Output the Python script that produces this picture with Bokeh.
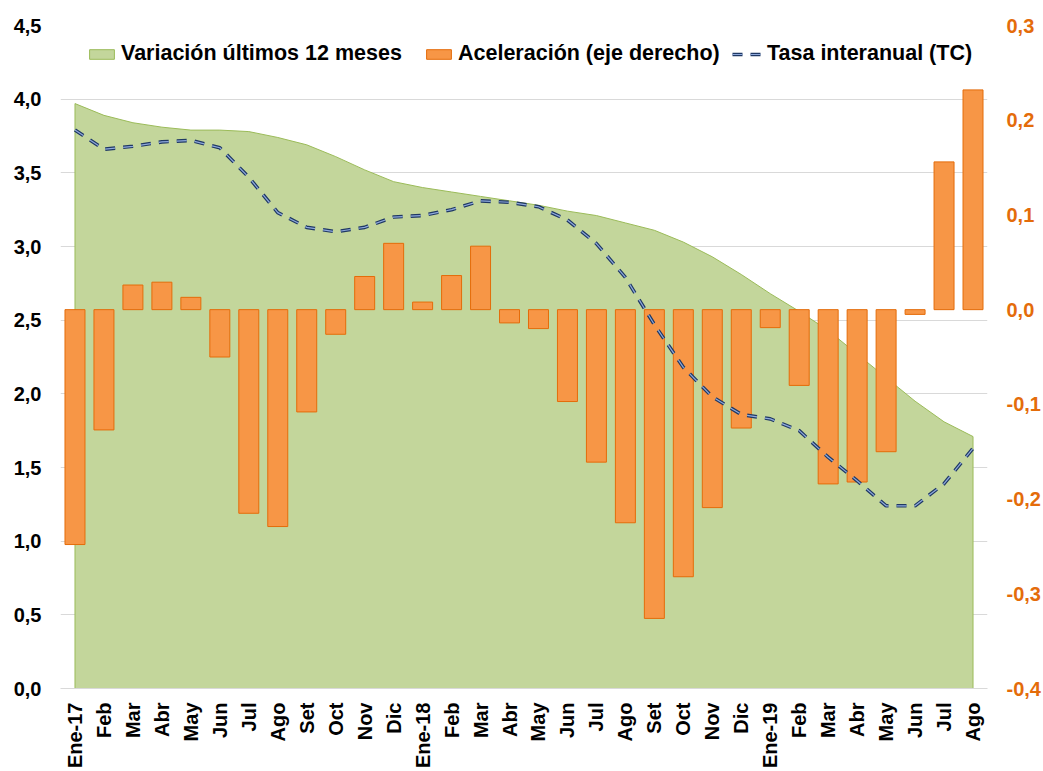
from bokeh.plotting import figure
from bokeh.models import (Range1d, LinearAxis, SingleIntervalTicker, FixedTicker,
                          CustomJSTickFormatter, Legend, LegendItem, ColumnDataSource)
from bokeh.embed import file_html
from bokeh.resources import INLINE
from math import pi

labels = ["Ene-17", "Feb", "Mar", "Abr", "May", "Jun", "Jul", "Ago", "Set", "Oct", "Nov", "Dic",
          "Ene-18", "Feb", "Mar", "Abr", "May", "Jun", "Jul", "Ago", "Set", "Oct", "Nov", "Dic",
          "Ene-19", "Feb", "Mar", "Abr", "May", "Jun", "Jul", "Ago"]

variacion = [3.97, 3.89, 3.84, 3.81, 3.79, 3.79, 3.78, 3.74, 3.69, 3.61, 3.52, 3.44,
             3.40, 3.37, 3.34, 3.31, 3.28, 3.24, 3.21, 3.16, 3.11, 3.03, 2.93, 2.81,
             2.68, 2.56, 2.43, 2.27, 2.11, 1.95, 1.81, 1.71]

aceleracion = [-0.248, -0.127, 0.026, 0.029, 0.013, -0.050, -0.215, -0.229, -0.108, -0.026, 0.035, 0.070,
               0.008, 0.036, 0.067, -0.014, -0.020, -0.097, -0.161, -0.225, -0.326, -0.282, -0.209, -0.125,
               -0.019, -0.080, -0.184, -0.182, -0.150, -0.005, 0.156, 0.232]

tasa = [3.79, 3.66, 3.68, 3.71, 3.72, 3.67, 3.47, 3.23, 3.13, 3.10, 3.13, 3.20,
        3.21, 3.25, 3.31, 3.30, 3.27, 3.18, 3.02, 2.79, 2.47, 2.18, 1.98, 1.86,
        1.83, 1.75, 1.57, 1.41, 1.24, 1.24, 1.39, 1.63]

left_ticks = [0.0, 0.5, 1.0, 1.5, 2.0, 2.5, 3.0, 3.5, 4.0, 4.5]
right_ticks = [-0.4, -0.3, -0.2, -0.1, 0.0, 0.1, 0.2, 0.3]

x = list(range(len(labels)))

FONT = "Liberation Sans"
GREEN_FILL = "#C3D69B"
GREEN_LINE = "#9BBB59"
ORANGE_FILL = "#F79646"
ORANGE_LINE = "#E46C0A"
NAVY = "#1F3864"
LIGHT_BLUE = "#8FAADC"
GRID = "#D9D9D9"

p = figure(width=1043, height=771, output_backend="svg", toolbar_location=None,
           x_range=Range1d(-0.5, len(labels) - 0.5),
           y_range=Range1d(left_ticks[0], left_ticks[-1]),
           min_border_left=60, min_border_right=56, min_border_top=25, min_border_bottom=83)
p.extra_y_ranges = {"right": Range1d(right_ticks[0], right_ticks[-1])}
p.outline_line_color = None
p.background_fill_color = "white"
p.border_fill_color = "white"

# area (variación últimos 12 meses)
area_x = [x[0]] + x + [x[-1]]
area_y = [0] + variacion + [0]
r_area = p.patch(area_x, area_y, fill_color=GREEN_FILL, line_color=GREEN_LINE, line_width=1)

# bars (aceleración, right axis)
src = ColumnDataSource(dict(x=x, acc=aceleracion))
r_bar = p.vbar(x="x", top="acc", bottom=0, width=0.69, source=src, y_range_name="right",
               fill_color=ORANGE_FILL, line_color=ORANGE_LINE, line_width=1)

# tasa interanual line (double-stroke dashed)
r_line_out = p.line(x, tasa, line_color=NAVY, line_width=3.6, line_dash="10 8")
r_line_in = p.line(x, tasa, line_color=LIGHT_BLUE, line_width=1.2, line_dash="10 8")

# axes
fmt = CustomJSTickFormatter(code="""
const v = Math.abs(tick) < 1e-9 ? 0 : tick;
return v.toFixed(1).replace('.', ',');
""")

def style_axis(ax, color="black", standoff=19):
    ax.major_tick_line_color = None
    ax.minor_tick_line_color = None
    ax.major_tick_out = 0
    ax.major_tick_in = 0
    ax.minor_tick_out = 0
    ax.minor_tick_in = 0
    ax.major_label_standoff = standoff
    ax.major_label_text_font = FONT
    ax.major_label_text_font_style = "bold"
    ax.major_label_text_font_size = "20px"
    ax.major_label_text_color = color

xa = p.xaxis[0]
xa.ticker = FixedTicker(ticks=x)
xa.major_label_overrides = {i: lab for i, lab in zip(x, labels)}
xa.major_label_orientation = pi / 2
xa.axis_line_color = GRID
xa.axis_line_width = 1
style_axis(xa, standoff=14)

ya = p.yaxis[0]
ya.ticker = FixedTicker(ticks=left_ticks)
ya.formatter = fmt
ya.axis_line_color = None
style_axis(ya)

ra = LinearAxis(y_range_name="right", ticker=FixedTicker(ticks=right_ticks), formatter=fmt)
ra.axis_line_color = None
style_axis(ra, color=ORANGE_LINE)
p.add_layout(ra, "right")

p.xgrid.grid_line_color = None
p.ygrid.grid_line_color = GRID
p.ygrid.grid_line_width = 1

# legends
legend_specs = [
    ("Variación últimos 12 meses", [r_area], 26),
    ("Aceleración (eje derecho)", [r_bar], 363),
    ("Tasa interanual (TC)", [r_line_out, r_line_in], 672),
]
for lab, rends, xloc in legend_specs:
    lg = Legend(items=[LegendItem(label=lab, renderers=rends)], location=(xloc, 622),
                orientation="horizontal", padding=0, margin=0, spacing=0,
                glyph_width=31, glyph_height=12, label_standoff=4, label_height=24,
                label_text_font=FONT, label_text_font_style="bold",
                label_text_font_size="21.5px", label_text_color="black",
                border_line_alpha=0, background_fill_alpha=0)
    p.add_layout(lg)

open("out.html", "w").write(file_html(p, INLINE))
